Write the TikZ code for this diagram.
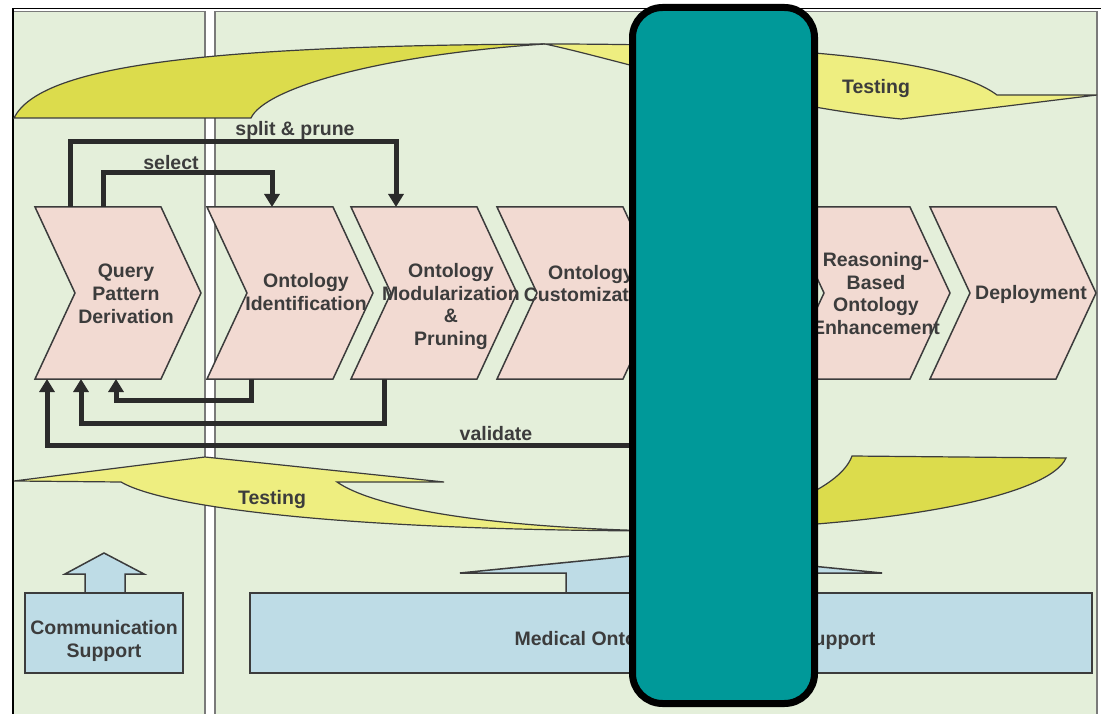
\documentclass[tikz,border=0pt]{standalone}
\usepackage{fontspec}
\setmainfont{Liberation Sans}
\usepackage{tikz}
\usetikzlibrary{arrows.meta}

\definecolor{panelgreen}{HTML}{E4EFDA}
\definecolor{panelgrey}{HTML}{7A7A7A}
\definecolor{chevpink}{HTML}{F2DAD2}
\definecolor{lightyellow}{HTML}{EEEE80}
\definecolor{darkyellow}{HTML}{DCDC4C}
\definecolor{supportblue}{HTML}{BEDCE6}
\definecolor{coverteal}{HTML}{009999}
\definecolor{inkgrey}{HTML}{3C3C3C}
\definecolor{arrowink}{HTML}{2B2B2B}

\begin{document}
\begin{tikzpicture}[x=1pt,y=-1pt,thick]
  \tikzstyle{panel} = [fill=panelgreen,draw=panelgrey,line width=1.5pt]
  \tikzstyle{chev} = [fill=chevpink,draw=inkgrey,line width=1.5pt]
  \tikzstyle{steptext} = [text=inkgrey,font=\bfseries\fontsize{19.5}{22.8}\selectfont,align=center,inner sep=0pt]
  \tikzstyle{flow} = [draw=arrowink,line width=5pt,-{Triangle[width=15pt,length=13pt]}]
  \tikzstyle{ribbonlight} = [fill=lightyellow,draw=inkgrey,line width=1.2pt]
  \tikzstyle{ribbondark} = [fill=darkyellow,draw=inkgrey,line width=1.2pt]
  \tikzstyle{support} = [fill=supportblue,draw=inkgrey,line width=1.5pt]
  \tikzstyle{cover} = [draw=black,fill=coverteal,line width=7pt,rounded corners=30pt,minimum width=182pt,minimum height=696pt,inner sep=0pt]
  %
  \useasboundingbox (0,0) rectangle (1101,714);
  \fill[white] (0,0) rectangle (1101,714);

  % Panels.
  \fill[panelgreen] (13,11.5) rectangle (205,714);
  \fill[panelgreen] (215,11.5) rectangle (1097,714);
  \draw[draw=panelgrey,line width=1.5pt] (13,714) |- (205,11.5) -- (205,714);
  \draw[draw=panelgrey,line width=1.5pt] (215,714) |- (1097,11.5) -- (1097,714);
  \draw[black,line width=1.5pt] (13,714) -- (13,8.5) -- (1101,8.5);

  % Upper testing ribbon.
  \filldraw[ribbondark] (14,118) -- (251,118) .. controls (265,88) and (380,55) .. (545,44)
    .. controls (200,46) and (40,66) .. (14,118) -- cycle;
  \filldraw[ribbonlight] (545,44) .. controls (800,44) and (950,60) .. (997,95) -- (1097,95) -- (901,119)
    .. controls (760,105) and (620,60) .. (545,44) -- cycle;
  \node[steptext] (testtop) at (876,88.5) {Testing};

  % Lower testing ribbon.
  \filldraw[ribbonlight] (14,481) -- (205,457) -- (444,482) -- (337,482) .. controls (370,505) and (470,527) .. (660,531)
    .. controls (320,530) and (160,505) .. (121,482) -- cycle;
  \filldraw[ribbondark] (660,531) .. controls (900,528) and (1050,495) .. (1066,458) -- (852,456)
    .. controls (840,490) and (760,522) .. (660,531) -- cycle;
  \node[steptext] (testbot) at (272,499) {Testing};

  % Process steps.
  \foreach \x/\n in {35/qpd,207/oid,351/omp,497/ocu,784/rbe,930/dep}{
    \draw[chev] (\x,207) -- ++(126,0) -- ++(40,86) -- ++(-40,86) -- ++(-126,0) -- ++(40,-86) -- cycle;
    \coordinate (\n-nw) at (\x,207);
    \coordinate (\n-sw) at (\x,379);
  }
  \node[steptext] (qpd) at (126,294) {Query\\Pattern\\Derivation};
  \node[steptext] (oid) at (306,292) {Ontology\\Identification};
  \node[steptext] (omp) at (451,306.5) {Ontology\\Modularization\\\&\\Pruning};
  \node[steptext] (ocu) at (591,283.5) {Ontology\\Customization};
  \node[steptext] (rbe) at (876,293.5) {Reasoning-\\Based\\Ontology\\Enhancement};
  \node[steptext] (dep) at (1031,294) {Deployment};

  % Feedback lines.
  \draw[flow] ([xshift=35pt]qpd-nw) -- ++(0,-65) -| ([xshift=45pt]omp-nw);
  \node[steptext] (split) at (295,130) {split \& prune};
  \draw[flow] ([xshift=68pt]qpd-nw) -- ++(0,-34) -| ([xshift=65pt]oid-nw);
  \node[steptext] (select) at (171,163) {select};
  \draw[flow] ([xshift=44pt]oid-sw) -- ++(0,21) -| ([xshift=81pt]qpd-sw);
  \draw[flow] ([xshift=33pt]omp-sw) -- ++(0,44) -| ([xshift=46pt]qpd-sw);
  \coordinate (valsrc) at (720,379);
  \draw[flow] (valsrc) -- ++(0,66) -| ([xshift=12pt]qpd-sw);
  \node[steptext] (validate) at (496,433.5) {validate};

  % Support blocks.
  \filldraw[support] (85,593) -- (85,574) -- (65,574) -- (104,553) -- (144,574) -- (125,574) -- (125,593);
  \draw[support] (25,593) rectangle (183,673);
  \node[steptext] (comm) at (104,641) {Communication\\Support};
  \filldraw[support] (566,593) -- (566,573) -- (460,573) -- (671,552) -- (882,573) -- (776,573) -- (776,593);
  \draw[support] (250,593) rectangle (1092,673);
  \node[steptext] (medical) at (695,640) {Medical Ontology Engineering Support};

  % Cover box.
  \node[cover] (mask) at (723.5,355.5) {};
\end{tikzpicture}
\end{document}
